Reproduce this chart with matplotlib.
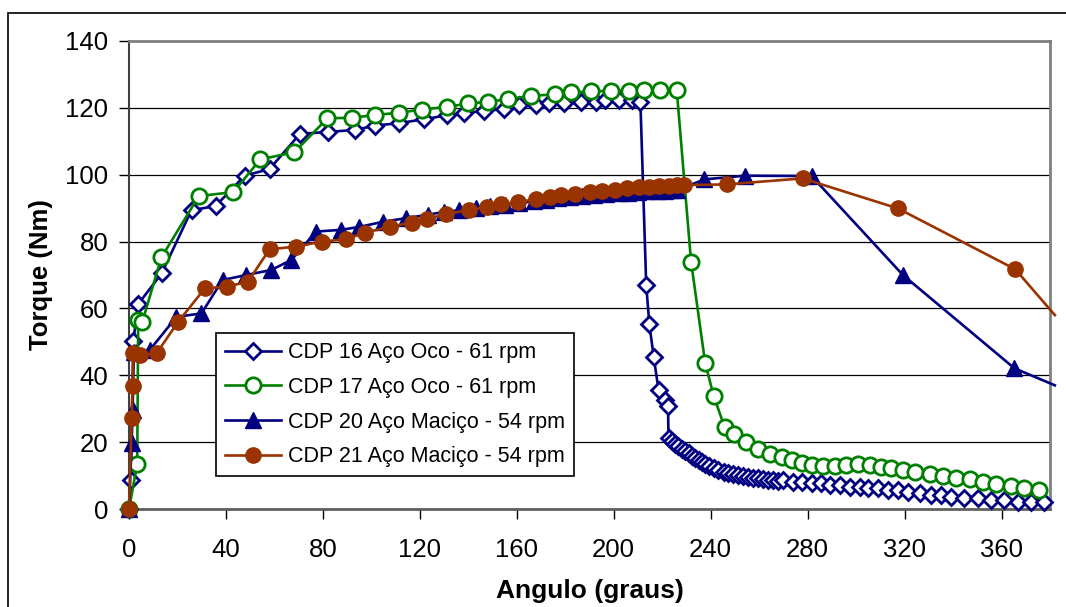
import matplotlib
matplotlib.use("Agg")
import matplotlib.pyplot as plt
from matplotlib.patches import Rectangle

plt.rcParams['font.family'] = ['Liberation Sans', 'DejaVu Sans']

# CDP 16 - aco oco, 61 rpm
ang16 = [0, 0.7, 1.8, 3.8, 13.5, 25.8, 35.7, 47.7, 58.0, 70.5, 82.3, 93.3, 101.6, 111.2,
         121.8, 131.4, 138.3, 146.5, 154.7, 160.9, 167.8, 173.3, 179.4, 186.3, 192.5,
         196.6, 202.1, 207.5, 211.0, 213.4, 214.7, 216.5, 218.5, 221.3, 222.4, 222.6,
         224.0, 225.4, 226.7, 228.1, 229.5, 230.9, 232.2, 233.6, 235.0, 236.4, 237.7,
         239.1, 241.2, 243.2, 245.3, 247.3, 249.4, 251.4, 253.5, 255.6, 257.6, 259.7,
         261.7, 263.8, 265.8, 267.9, 270.0, 274.1, 277.5, 281.6, 285.7, 289.2, 293.3,
         297.4, 301.5, 304.9, 309.0, 313.2, 317.3, 321.4, 326.2, 331.0, 335.1, 339.2,
         344.7, 350.2, 355.6, 361.2, 366.7, 372.2, 377.6]
torq16 = [0, 8.7, 50.3, 61.3, 70.5, 89.4, 90.6, 99.7, 101.7, 112.2, 112.8, 113.4, 114.7, 115.4,
          116.6, 117.8, 118.4, 119.1, 119.6, 120.9, 120.9, 121.4, 121.4, 121.8, 121.8,
          122.3, 122.3, 122.3, 121.8, 67.0, 55.3, 45.4, 35.6, 32.6, 30.8, 21.1,
          20.4, 19.6, 18.8, 18.1, 17.4, 16.7, 15.9, 15.3, 14.7, 14.0, 13.5,
          12.9, 12.2, 11.7, 11.2, 10.9, 10.5, 10.2, 9.9, 9.7, 9.4, 9.2,
          8.9, 8.7, 8.6, 8.5, 8.7, 8.2, 8.2, 7.7, 7.7, 7.2, 7.2,
          6.7, 6.7, 6.2, 6.2, 5.7, 5.7, 5.2, 4.7, 4.2, 4.2, 3.7,
          3.2, 3.2, 2.7, 2.7, 2.2, 2.2, 2.2]

# CDP 17 - aco oco, 61 rpm
ang17 = [0, 3.4, 3.8, 5.5, 13.4, 28.8, 43.1, 54.2, 68.2, 81.9, 91.9, 101.6, 111.2, 120.7,
         131.4, 140.0, 148.1, 156.4, 165.7, 175.6, 182.3, 190.7, 198.9, 206.3, 212.6,
         219.2, 226.0, 231.9, 237.7, 241.2, 245.7, 249.8, 254.6, 259.7, 264.5, 269.3,
         273.4, 277.5, 281.6, 286.4, 291.2, 296.0, 300.8, 305.6, 310.4, 314.5, 319.3,
         324.1, 330.3, 335.8, 341.3, 346.8, 352.3, 357.7, 363.9, 369.4, 375.6]
torq17 = [0, 13.5, 56.5, 56.0, 75.3, 93.6, 94.8, 104.6, 106.7, 116.9, 117.0, 117.9, 118.5, 119.5,
          120.3, 121.3, 121.8, 122.6, 123.6, 124.0, 124.6, 124.9, 125.1, 125.1, 125.3,
          125.3, 125.3, 74.0, 43.8, 33.9, 24.6, 22.4, 20.0, 17.9, 16.5, 15.5,
          14.7, 13.7, 13.2, 12.9, 12.9, 13.2, 13.4, 13.1, 12.5, 12.2, 11.7,
          11.2, 10.5, 9.9, 9.4, 8.9, 8.2, 7.5, 6.9, 6.4, 5.7]

# CDP 20 - aco macico, 54 rpm (ultimo par: ponto fora da escala)
ang20 = [0, 1.1, 1.5, 2.0, 8.6, 19.6, 29.9, 38.6, 48.4, 58.7, 67.0, 77.2, 87.5, 95.1, 104.7,
         114.3, 123.2, 130.0, 136.0, 143.0, 149.0, 155.0, 161.0, 167.0, 172.0, 177.0,
         182.0, 187.0, 192.0, 197.0, 202.0, 206.0, 210.0, 214.0, 218.0, 221.0, 224.0,
         226.0, 237.4, 254.1, 281.6, 319.3, 365.3, 382.0]
torq20 = [0, 19.7, 29.6, 47.0, 47.6, 57.5, 58.5, 68.5, 70.0, 71.5, 74.5, 83.0, 83.5, 84.4, 85.9,
          87.0, 88.0, 88.9, 89.3, 90.0, 90.5, 91.0, 91.6, 92.0, 92.5, 93.0,
          93.3, 93.6, 93.9, 94.2, 94.4, 94.6, 94.8, 95.0, 95.1, 95.2, 95.3,
          95.3, 98.6, 99.7, 99.6, 70.0, 42.1, 37.0]

# CDP 21 - aco macico, 54 rpm (ultimo par: ponto fora da escala)
ang21 = [0, 1.1, 1.5, 1.8, 4.5, 11.4, 20.3, 31.3, 40.3, 49.1, 58.0, 69.0, 79.7, 89.6, 97.5,
         107.7, 116.6, 122.8, 131.0, 140.3, 147.9, 153.4, 160.6, 167.8, 173.9, 178.4,
         184.2, 190.4, 195.2, 200.7, 205.5, 210.3, 214.4, 218.5, 222.6, 226.1, 228.8,
         246.6, 277.9, 317.3, 365.7, 382.0]
torq21 = [0, 27.1, 36.9, 46.6, 46.0, 46.6, 56.0, 66.0, 66.5, 68.0, 77.7, 78.5, 80.0, 80.7, 82.7,
          84.4, 85.7, 86.7, 88.3, 89.4, 90.4, 91.1, 91.9, 92.6, 93.2, 93.8,
          94.2, 94.7, 95.1, 95.4, 95.9, 96.2, 96.4, 96.6, 96.7, 96.8, 96.9,
          97.1, 98.9, 89.9, 71.7, 58.0]

labels = ['CDP 16 Aço Oco - 61 rpm', 'CDP 17 Aço Oco - 61 rpm',
          'CDP 20 Aço Maciço - 54 rpm', 'CDP 21 Aço Maciço - 54 rpm']

navy = '#000080'
green = '#008000'
brown = '#993300'

fig = plt.figure(figsize=(10.66, 6.07), dpi=100)
ax = fig.add_axes([0.121, 0.1614, 0.864, 0.7711])

ax.plot(ang16, torq16, color=navy, lw=1.9, marker='D', ms=8, mfc='white', mec=navy,
        mew=2, label=labels[0], clip_on=False, zorder=3)
ax.plot(ang17, torq17, color=green, lw=1.9, marker='o', ms=11, mfc='white', mec=green,
        mew=2, label=labels[1], clip_on=False, zorder=4)
ax.plot(ang20, torq20, color=navy, lw=1.9, marker='^', ms=11, mfc=navy, mec=navy,
        markevery=slice(0, -1), label=labels[2], clip_on=False, zorder=5)
ax.plot(ang21, torq21, color=brown, lw=1.9, marker='o', ms=11, mfc=brown, mec=brown,
        markevery=slice(0, -1), label=labels[3], clip_on=False, zorder=6)

ax.set_xlim(0, 380)
ax.set_ylim(0, 140)
ax.set_xticks(range(0, 361, 40))
ax.set_yticks(range(0, 141, 20))
ax.tick_params(axis='both', direction='out', length=7, width=1, labelsize=18.5)
ax.tick_params(axis='x', pad=14)
ax.tick_params(axis='y', pad=8)
ax.yaxis.grid(True, color='black', lw=0.9)
ax.set_axisbelow(True)

for s in ['top', 'right']:
    ax.spines[s].set_color('#808080')
    ax.spines[s].set_linewidth(2)
ax.spines['left'].set_color('#404040')
ax.spines['left'].set_linewidth(1.5)
ax.spines['bottom'].set_color('#606060')
ax.spines['bottom'].set_linewidth(2)

ax.set_xlabel('Angulo (graus)', fontsize=19, fontweight='bold', labelpad=12)
ax.set_ylabel('Torque (Nm)', fontsize=18.5, fontweight='bold', labelpad=9)

leg = ax.legend(loc='lower left', bbox_to_anchor=(0.0945, 0.0705), borderaxespad=0,
                fontsize=15.5, fancybox=False, framealpha=1, edgecolor='black',
                handlelength=2.6, labelspacing=0.64, handletextpad=0.35, borderpad=0.4)
leg.get_frame().set_linewidth(1.2)

# moldura do grafico (so as bordas superior e esquerda ficam visiveis)
fig.patches.append(Rectangle((0.0075, -0.2), 1.5, 0.2 + 0.9786, transform=fig.transFigure,
                             fill=False, edgecolor='black', lw=1.2))

fig.savefig('out.png', dpi=100)
